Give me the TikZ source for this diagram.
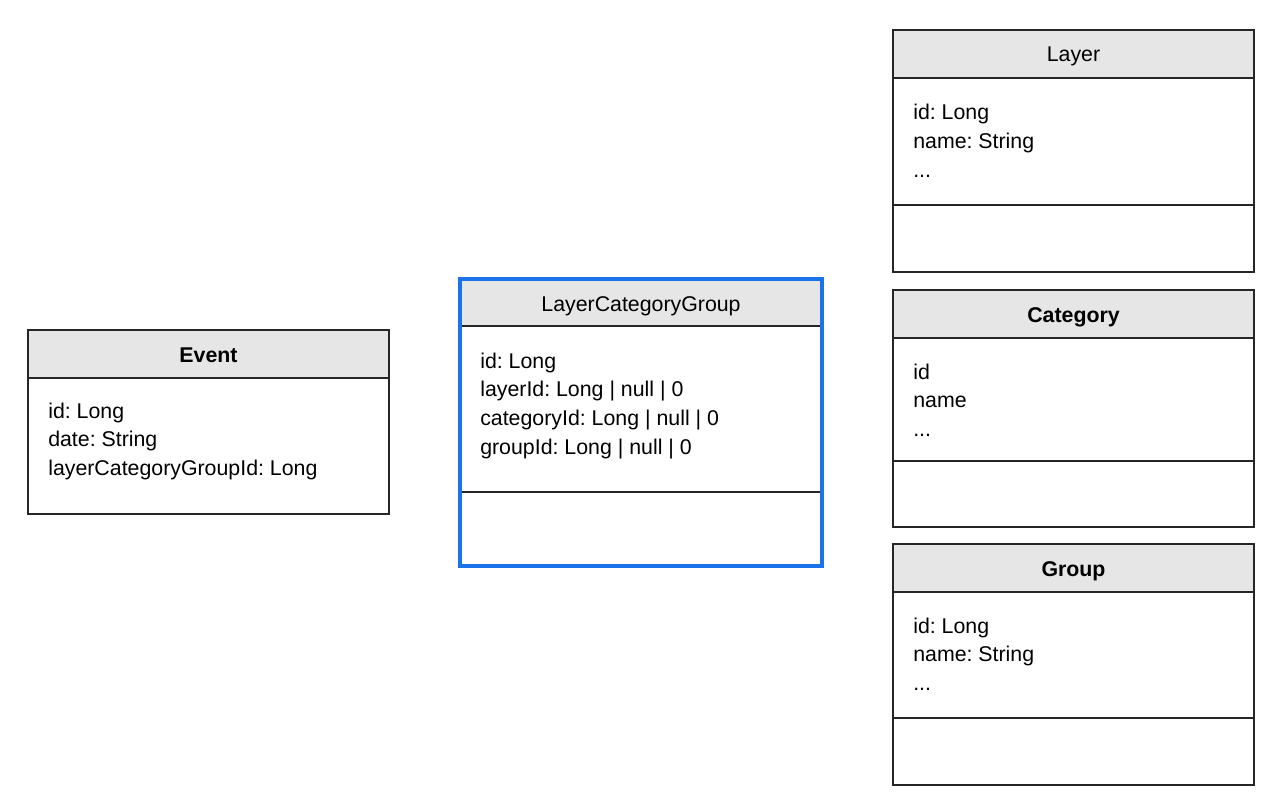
\documentclass[tikz,border=0pt]{standalone}
\usepackage{fontspec}
\setmainfont{Liberation Sans}
\frenchspacing
\definecolor{hdrgray}{HTML}{E6E6E6}
\definecolor{selblue}{HTML}{1A73E8}
\begin{document}
\begin{tikzpicture}[x=0.75pt,y=-0.75pt,
  attr/.style={anchor=base west, inner sep=0pt, font=\fontsize{16}{19}\selectfont},
  ttl/.style={anchor=base, inner sep=0pt, font=\fontsize{16}{19}\selectfont},
  bttl/.style={ttl, font=\fontsize{16}{19}\selectfont\bfseries},
  hdr/.style={fill=hdrgray},
  frame/.style={draw=black!85, line width=1pt},
  sep/.style={draw=black!85, line width=1pt},
  selframe/.style={draw=selblue, line width=2.4pt}]
\useasboundingbox (0,0) rectangle (1280,806);

% ---------- Event ----------
\fill[hdr] (28,330) rectangle (389,378);
\draw[frame] (28,330) rectangle (389,514);
\draw[sep] (28,378) -- (389,378);
\node[bttl] (evT) at (208.5,362) {Event};
\node[attr] (ev1) at (48,418) {id: Long};
\node[attr] (ev2) at (48,446.7) {date: String};
\node[attr] (ev3) at (48,475.4) {layerCategoryGroupId: Long};

% ---------- LayerCategoryGroup ----------
\fill[hdr] (460,279) rectangle (822,326);
\draw[sep] (460,326) -- (822,326);
\draw[sep] (460,492) -- (822,492);
\draw[selframe] (460,279) rectangle (822,566);
\node[ttl] (lcgT) at (641,311) {LayerCategoryGroup};
\node[attr] (lcg1) at (480,368) {id: Long};
\node[attr] (lcg2) at (480,396.7) {layerId: Long | null | 0};
\node[attr] (lcg3) at (480,425.4) {categoryId: Long | null | 0};
\node[attr] (lcg4) at (480,454.1) {groupId: Long | null | 0};

% ---------- Layer ----------
\fill[hdr] (893,30) rectangle (1254,78);
\draw[frame] (893,30) rectangle (1254,272);
\draw[sep] (893,78) -- (1254,78);
\draw[sep] (893,205) -- (1254,205);
\node[ttl] (layT) at (1073.5,62) {Layer};
\node[attr] (lay1) at (913,120) {id: Long};
\node[attr] (lay2) at (913,148.7) {name: String};
\node[attr] (lay3) at (913,177.4) {...};

% ---------- Category ----------
\fill[hdr] (893,290) rectangle (1254,338);
\draw[frame] (893,290) rectangle (1254,527);
\draw[sep] (893,338) -- (1254,338);
\draw[sep] (893,461) -- (1254,461);
\node[bttl] (catT) at (1073.5,322) {Category};
\node[attr] (cat1) at (913,379) {id};
\node[attr] (cat2) at (913,407.7) {name};
\node[attr] (cat3) at (913,436.4) {...};

% ---------- Group ----------
\fill[hdr] (893,544) rectangle (1254,592);
\draw[frame] (893,544) rectangle (1254,785);
\draw[sep] (893,592) -- (1254,592);
\draw[sep] (893,718) -- (1254,718);
\node[bttl] (grpT) at (1073.5,576) {Group};
\node[attr] (grp1) at (913,633) {id: Long};
\node[attr] (grp2) at (913,661.7) {name: String};
\node[attr] (grp3) at (913,690.4) {...};
\end{tikzpicture}
\end{document}
